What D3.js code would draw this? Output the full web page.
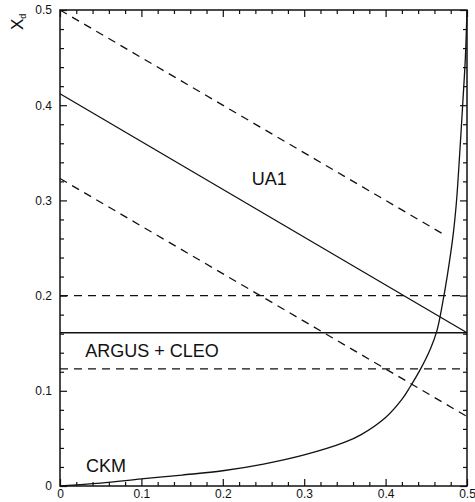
<!DOCTYPE html>
<html>
<head>
<meta charset="utf-8">
<script src="https://cdn.jsdelivr.net/npm/d3@7"></script>
<style>
  body { margin: 0; background: #fff; }
  svg { display: block; }
  text { font-family: "Liberation Sans", Arial, sans-serif; fill: #111; }
</style>
</head>
<body>
<div class="display"></div>
<script>
// values
const xTickValues = [0, 0.1, 0.2, 0.3, 0.4, 0.5];
const xTickLabels = ['0', '0.1', '0.2', '0.3', '0.4', '0.5'];
const yTickValues = [0, 0.1, 0.2, 0.3, 0.4, 0.5];
const yTickLabels = ['0', '0.1', '0.2', '0.3', '0.4', '0.5'];

const ua1Central = [[0, 0.412], [0.5, 0.161]];
const ua1Upper = [[0, 0.5], [0.474, 0.263]];
const ua1Lower = [[0, 0.323], [0.5, 0.073]];

const argusCentral = [[0, 0.161], [0.5, 0.161]];
const argusUpper = [[0, 0.2], [0.5, 0.2]];
const argusLower = [[0, 0.123], [0.5, 0.123]];

const ckmCurve = [
  [0, 0], [0.05, 0.003], [0.1, 0.0074], [0.15, 0.0115], [0.2, 0.016],
  [0.25, 0.023], [0.3, 0.0326], [0.35, 0.046], [0.37, 0.054], [0.4, 0.072],
  [0.42, 0.091], [0.43, 0.104], [0.443, 0.123], [0.455, 0.144], [0.463, 0.163],
  [0.47, 0.192], [0.476, 0.222], [0.483, 0.264], [0.487, 0.298], [0.49, 0.335],
  [0.495, 0.405], [0.498, 0.45], [0.5, 0.5]
];

const regionLabels = ['UA1', 'ARGUS + CLEO', 'CKM'];

const config = {
  width: 475,
  height: 502,
  left: 60,
  right: 467,
  top: 10,
  bottom: 486,
  majorTick: 7,
  minorTick: 4,
  dash: '8,6'
};

const svg = d3.select('.display')
  .append('svg')
  .attr('width', config.width)
  .attr('height', config.height);

const x = d3.scaleLinear().domain([0, 0.5]).range([config.left, config.right]);
const y = d3.scaleLinear().domain([0, 0.5]).range([config.bottom, config.top]);

const minorTicks = d3.range(0, 26).filter(i => i % 5 !== 0).map(i => i * 0.02);

function styleAxis(g) {
  g.select('.domain').remove();
  g.selectAll('line').attr('stroke', '#111').attr('stroke-width', 1.2);
  g.selectAll('text').style('font-size', '12px').attr('fill', '#111');
}

// bottom axis
svg.append('g')
  .attr('transform', `translate(0, ${config.bottom})`)
  .call(d3.axisBottom(x).tickValues(xTickValues)
    .tickFormat((d, i) => xTickLabels[i])
    .tickSize(-config.majorTick).tickPadding(3))
  .call(styleAxis);
svg.append('g')
  .attr('transform', `translate(0, ${config.bottom})`)
  .call(d3.axisBottom(x).tickValues(minorTicks).tickFormat('').tickSize(-config.minorTick))
  .call(styleAxis);

// top axis
svg.append('g')
  .attr('transform', `translate(0, ${config.top})`)
  .call(d3.axisTop(x).tickValues(xTickValues).tickFormat('').tickSize(-config.majorTick))
  .call(styleAxis);
svg.append('g')
  .attr('transform', `translate(0, ${config.top})`)
  .call(d3.axisTop(x).tickValues(minorTicks).tickFormat('').tickSize(-config.minorTick))
  .call(styleAxis);

// left axis
svg.append('g')
  .attr('transform', `translate(${config.left}, 0)`)
  .call(d3.axisLeft(y).tickValues(yTickValues)
    .tickFormat((d, i) => yTickLabels[i])
    .tickSize(-config.majorTick).tickPadding(8))
  .call(styleAxis);
svg.append('g')
  .attr('transform', `translate(${config.left}, 0)`)
  .call(d3.axisLeft(y).tickValues(minorTicks).tickFormat('').tickSize(-config.minorTick))
  .call(styleAxis);

// right axis
svg.append('g')
  .attr('transform', `translate(${config.right}, 0)`)
  .call(d3.axisRight(y).tickValues(yTickValues).tickFormat('').tickSize(-config.majorTick))
  .call(styleAxis);
svg.append('g')
  .attr('transform', `translate(${config.right}, 0)`)
  .call(d3.axisRight(y).tickValues(minorTicks).tickFormat('').tickSize(-config.minorTick))
  .call(styleAxis);

// frame
svg.append('rect')
  .attr('x', config.left)
  .attr('y', config.top)
  .attr('width', config.right - config.left)
  .attr('height', config.bottom - config.top)
  .attr('fill', 'none')
  .attr('stroke', '#111')
  .attr('stroke-width', 1.5);

const line = d3.line().x(d => x(d[0])).y(d => y(d[1]));

function drawLine(data, dashed, curve) {
  svg.append('path')
    .datum(data)
    .attr('fill', 'none')
    .attr('stroke', '#111')
    .attr('stroke-width', 1.3)
    .attr('stroke-dasharray', dashed ? config.dash : null)
    .attr('d', line.curve(curve || d3.curveLinear)(data));
}

drawLine(ua1Central, false);
drawLine(ua1Upper, true);
drawLine(ua1Lower, true);
drawLine(argusCentral, false);
drawLine(argusUpper, true);
drawLine(argusLower, true);
drawLine(ckmCurve, false, d3.curveCatmullRom.alpha(0.5));

// region labels
svg.append('text')
  .attr('x', x(0.257))
  .attr('y', y(0.316))
  .attr('text-anchor', 'middle')
  .style('font-size', '18px')
  .text(regionLabels[0]);

svg.append('text')
  .attr('x', x(0.031))
  .attr('y', y(0.1355))
  .style('font-size', '18px')
  .text(regionLabels[1]);

svg.append('text')
  .attr('x', x(0.032))
  .attr('y', y(0.0147))
  .style('font-size', '18px')
  .text(regionLabels[2]);

// y axis title, rotated
const yTitle = svg.append('text')
  .attr('transform', 'translate(23, 30) rotate(-90)');
yTitle.append('tspan').style('font-size', '17px').text('X');
yTitle.append('tspan').style('font-size', '9px').attr('dy', 3).text('d');
</script>
</body>
</html>
